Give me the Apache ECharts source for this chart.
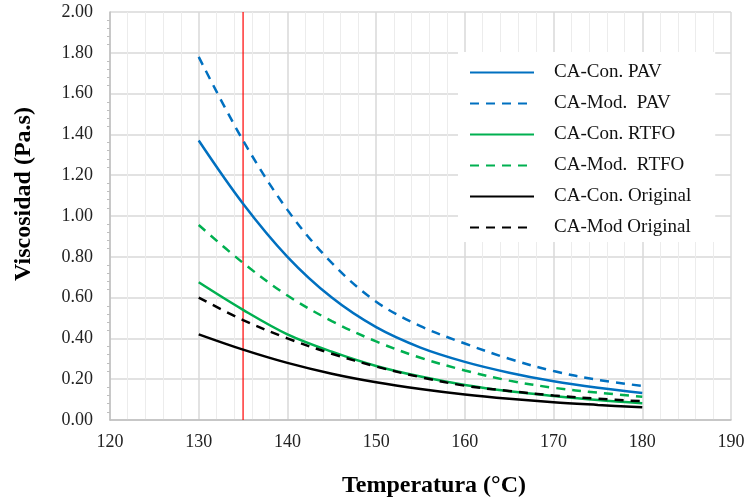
<!DOCTYPE html>
<html>
<head>
<meta charset="utf-8">
<script src="https://cdn.jsdelivr.net/npm/echarts@6/dist/echarts.min.js"></script>
<style>
  html, body { margin: 0; padding: 0; background: #fff; }
  #chart { width: 747px; height: 500px; }
</style>
</head>
<body>
<div id="chart"></div>
<script>
// temperaturas (°C)
const temps = [130, 135, 140, 145, 150, 155, 160, 165, 170, 175, 180]

// viscosidad (Pa.s)
const conPav = [1.37, 1.06, 0.80, 0.60, 0.455, 0.355, 0.285, 0.232, 0.19, 0.158, 0.132]
const modPav = [1.78, 1.37, 1.03, 0.77, 0.58, 0.46, 0.375, 0.30, 0.24, 0.197, 0.167]
const conRtfo = [0.675, 0.54, 0.42, 0.335, 0.265, 0.213, 0.172, 0.141, 0.118, 0.098, 0.082]
const modRtfo = [0.956, 0.77, 0.61, 0.485, 0.385, 0.305, 0.243, 0.193, 0.158, 0.134, 0.114]
const conOrig = [0.42, 0.345, 0.28, 0.227, 0.185, 0.152, 0.125, 0.104, 0.087, 0.074, 0.062]
const modOrig = [0.60, 0.49, 0.40, 0.325, 0.262, 0.21, 0.168, 0.142, 0.12, 0.104, 0.092]

// linea vertical de referencia (135 °C)
const markTemp = [135, 135]
const markVisc = [0, 2]

const font = 'Liberation Serif, Times New Roman, serif'

const mkSeries = (name, vals, color, dashed) => ({
  name,
  type: 'line',
  data: temps.map((t, i) => [t, vals[i]]),
  smooth: 0.35,
  symbol: 'none',
  z: 3,
  lineStyle: { color, width: 2.5, type: dashed ? [9, 7] : 'solid' },
  itemStyle: { color }
})

const chart = echarts.init(document.getElementById('chart'))

chart.setOption({
  animation: false,
  grid: { left: 110, right: 16, top: 12, bottom: 80, outerBoundsMode: 'none', containLabel: false },
  legend: {
    orient: 'vertical',
    left: 458,
    top: 52,
    padding: [11, 24, 5, 11],
    itemWidth: 64,
    itemHeight: 14,
    itemGap: 12,
    backgroundColor: '#fff',
    itemStyle: { color: 'transparent', borderWidth: 0, opacity: 0 },
    textStyle: { fontFamily: font, fontSize: 19, color: '#111', padding: [0, 0, 0, 15] },
    data: ['CA-Con. PAV', 'CA-Mod.  PAV', 'CA-Con. RTFO', 'CA-Mod.  RTFO', 'CA-Con. Original', 'CA-Mod Original']
  },
  xAxis: {
    type: 'value',
    min: 120,
    max: 190,
    interval: 10,
    name: 'Temperatura (°C)',
    nameLocation: 'middle',
    nameGap: 54,
    nameTextStyle: { fontFamily: font, fontSize: 24, fontWeight: 'bold', color: '#000', padding: [0, 0, 0, 27] },
    axisLine: { lineStyle: { color: '#bfbfbf', width: 1.5 } },
    axisTick: { show: false },
    axisLabel: { fontFamily: font, fontSize: 18, color: '#222', margin: 13 },
    splitLine: { show: true, lineStyle: { color: '#d9d9d9', width: 1.5 } },
    minorTick: { show: false, splitNumber: 5 },
    minorSplitLine: { show: true, lineStyle: { color: '#ececec', width: 1 } }
  },
  yAxis: {
    type: 'value',
    min: 0,
    max: 2,
    interval: 0.2,
    name: 'Viscosidad (Pa.s)',
    nameLocation: 'middle',
    nameGap: 74,
    nameTextStyle: { fontFamily: font, fontSize: 24, fontWeight: 'bold', color: '#000', padding: [0, 0, 0, 44] },
    axisLine: { show: true, lineStyle: { color: '#bfbfbf', width: 1.5 } },
    axisTick: { show: false },
    axisLabel: { fontFamily: font, fontSize: 18, color: '#222', margin: 17, formatter: v => v.toFixed(2) },
    splitLine: { show: true, lineStyle: { color: '#d9d9d9', width: 1.5 } },
    minorTick: { show: true, splitNumber: 5, length: 3, lineStyle: { color: '#bfbfbf' } }
  },
  series: [
    {
      name: 'ref',
      type: 'line',
      data: markTemp.map((t, i) => [t, markVisc[i]]),
      symbol: 'none',
      silent: true,
      z: 2,
      lineStyle: { color: '#ff0000', width: 1.2 },
      itemStyle: { color: '#ff0000' }
    },
    mkSeries('CA-Con. PAV', conPav, '#0070C0', false),
    mkSeries('CA-Mod.  PAV', modPav, '#0070C0', true),
    mkSeries('CA-Con. RTFO', conRtfo, '#00B050', false),
    mkSeries('CA-Mod.  RTFO', modRtfo, '#00B050', true),
    mkSeries('CA-Con. Original', conOrig, '#000000', false),
    mkSeries('CA-Mod Original', modOrig, '#000000', true)
  ]
})

window.addEventListener('resize', () => chart.resize())
</script>
</body>
</html>
